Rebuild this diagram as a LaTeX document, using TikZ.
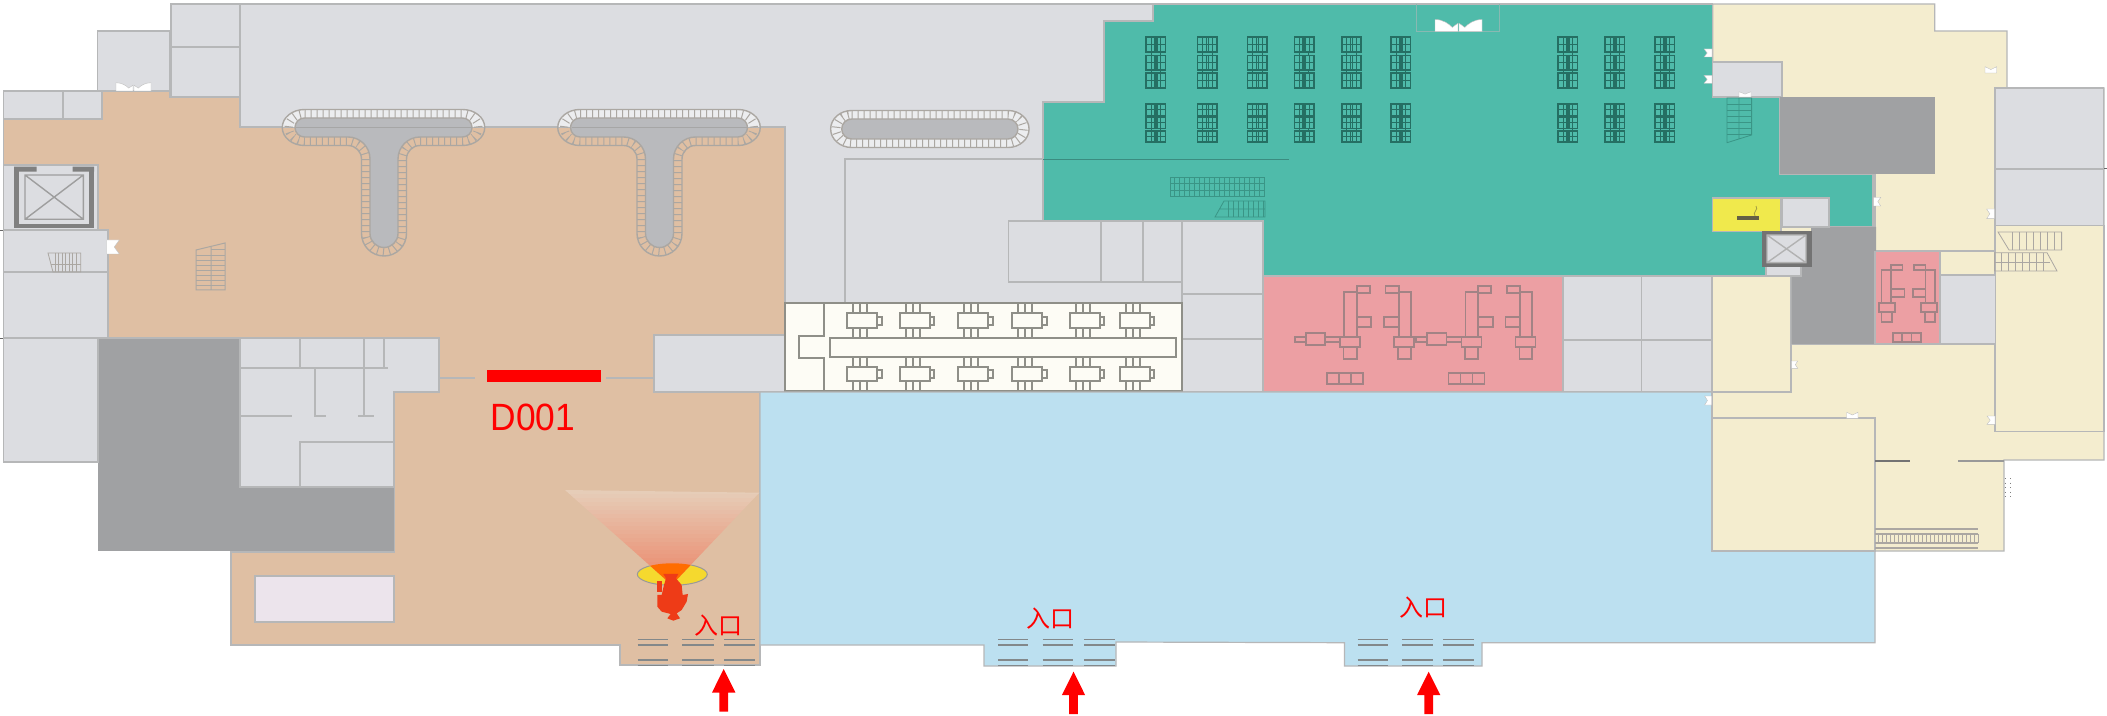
\documentclass[tikz,border=0pt]{standalone}
\usepackage{fontspec}
\setmainfont{Liberation Sans}
\newfontfamily\cjk{Noto Sans CJK SC}
\newfontfamily\codefont[FakeStretch=.93]{Liberation Sans}
\definecolor{cGray}{HTML}{DCDDE1}
\definecolor{cDark}{HTML}{A0A1A3}
\definecolor{cTan}{HTML}{DFBFA3}
\definecolor{cTeal}{HTML}{4FBBAA}
\definecolor{cCream}{HTML}{F4EDCF}
\definecolor{cBlue}{HTML}{BCE0F0}
\definecolor{cPink}{HTML}{EC9FA3}
\definecolor{cWall}{HTML}{B6B7B8}
\definecolor{cIvory}{HTML}{FDFCF5}
\definecolor{cStair}{HTML}{ABA7A2}
\definecolor{cDesk}{HTML}{256F63}
\definecolor{cUnit}{HTML}{8F8F88}
\definecolor{cPUnit}{HTML}{A28385}
\definecolor{cFig}{HTML}{EE3B17}
\definecolor{cYellowRoom}{HTML}{F0E94C}
\definecolor{cGold}{HTML}{F5D92E}
\definecolor{cConeA}{HTML}{E6CDB8}
\definecolor{cConeB}{HTML}{EC8567}
\definecolor{cLobby}{HTML}{ECE4EC}
\definecolor{cRingTop}{HTML}{ECEDEF}
\definecolor{cCore}{HTML}{B9BABD}
\definecolor{cTread}{HTML}{83888A}
\tikzset{
  wall/.style={draw=cWall,line width=.6pt},
  zone/.style={wall,fill=#1},
  pline/.style={draw=cWall,line width=.6pt},
  stairline/.style={draw=cStair,line width=.4pt},
  ringline/.style={draw=cStair,line width=.7pt},
  ticks/.style={draw=cStair,line width=4.2pt,dash pattern=on .5pt off 2.5pt},
  deskline/.style={draw=cDesk,line width=.5pt},
  unitline/.style={draw=cUnit,line width=1pt},
  punit/.style={draw=cPUnit,line width=.9pt},
  door/.style={fill=white,draw=black!25,line width=.2pt},
  redarrow/.style={fill=red,draw=none},
  entry/.style={text=red,font=\cjk\fontsize{12}{12}\selectfont,inner sep=0pt},
}
% T-shaped ring path, offset #1 from the inner shape
\newcommand*{\fpT}[1]{
  (304.5,{118-#1}) -- (462.5,{118-#1})
  arc[start angle=-90,end angle=90,x radius={9.5pt+1.5*#1pt},y radius={9.5pt+#1pt}]
  -- (420,{137+#1})
  arc[start angle=-90,end angle=-180,radius={22pt-#1pt}]
  -- ({398+#1},233.5)
  arc[start angle=0,end angle=180,radius={14pt+#1pt}]
  -- ({370-#1},159)
  arc[start angle=0,end angle=-90,radius={22pt-#1pt}]
  -- (304.5,{137+#1})
  arc[start angle=90,end angle=270,x radius={9.5pt+1.5*#1pt},y radius={9.5pt+#1pt}]
  -- cycle}
\newcommand*{\fpCap}[1]{
  (851.7,{119-#1}) -- (1008,{119-#1})
  arc[start angle=-90,end angle=90,x radius={10pt+1.3*#1pt},y radius={10pt+#1pt}]
  -- (851.7,{139+#1})
  arc[start angle=90,end angle=270,x radius={10pt+1.3*#1pt},y radius={10pt+#1pt}]
  -- cycle}
\newcommand*{\fpDesk}[3]{% x y h
  \draw[deskline,line width=.85pt] (#1,#2) rectangle ++(19.5,#3);
  \draw[deskline,line width=.6pt] (#1,{#2+#3/2}) -- ++(19.5,0);
  \draw[deskline,line width=.8pt] ({#1+8.8},#2) -- ++(0,#3) ({#1+10.8},#2) -- ++(0,#3);
  \draw[deskline,line width=.3pt] ({#1+5},#2) -- ++(0,#3) ({#1+14.5},#2) -- ++(0,#3);
}
\newcommand*{\fpDoorR}[4]{\fill[door] (#1,#2) -- (#3,#2) -- ({#1+(#3-#1)*.6},{(#2+#4)/2}) -- (#3,#4) -- (#1,#4) -- cycle;}
\newcommand*{\fpDoorL}[4]{\fill[door] (#1,#2) -- (#3,#2) -- (#3,#4) -- (#1,#4) -- ({#1+(#3-#1)*.4},{(#2+#4)/2}) -- cycle;}
\newcommand*{\fpDoorT}[4]{\fill[door] (#1,#2) -- ({(#1+#3)/2},{#2+(#4-#2)*.45}) -- (#3,#2) -- (#3,#4) -- (#1,#4) -- cycle;}
% curved leaf, sweeping from the outer top corner
\newcommand*{\fpLeafA}[4]{\fill[door] (#1,#2) .. controls ({#1+(#3-#1)*.35},#2) and ({#1+(#3-#1)*.6},{#2+(#4-#2)*.35}) .. ({#1+(#3-#1)*.75},{#2+(#4-#2)*.65}) -- (#3,{#2+(#4-#2)*.3}) -- (#3,#4) -- (#1,#4) -- cycle;}
\newcommand*{\fpLeafB}[4]{\fill[door] (#3,#2) .. controls ({#3-(#3-#1)*.35},#2) and ({#3-(#3-#1)*.6},{#2+(#4-#2)*.35}) .. ({#3-(#3-#1)*.75},{#2+(#4-#2)*.65}) -- (#1,{#2+(#4-#2)*.3}) -- (#1,#4) -- (#3,#4) -- cycle;}
\newcommand*{\fpTreads}[2]{% x1 x2
  \foreach \yy in {639.5,645,660,665.5} {\draw[draw=cTread,line width=.8pt] (#1,\yy) -- (#2,\yy);}
}
\newcommand*{\fpArrow}[2]{% x tip, y tip
  \fill[redarrow] (#1,#2) -- ({#1+11.7},{#2+23.5}) -- ({#1+4.4},{#2+23.5}) -- ({#1+4.4},{#2+42.5}) -- ({#1-4.4},{#2+42.5}) -- ({#1-4.4},{#2+23.5}) -- ({#1-11.7},{#2+23.5}) -- cycle;
}
\newcommand*{\fpMachineL}[1]{% left column group at x shift
  \begin{scope}[shift={(#1,0)}]
  \draw[punit] (1344,292.3) rectangle (1356.6,336.7);
  \draw[punit] (1356.6,286) rectangle (1369.7,292.7);
  \draw[punit] (1356.6,316.7) rectangle (1371.3,326.7);
  \draw[punit] (1340,336.7) rectangle (1360,346.7);
  \draw[punit] (1343.4,346.7) rectangle (1356.6,359.3);
  \draw[punit] (1398.6,292.3) rectangle (1410.7,336.7);
  \draw[punit] (1385.5,286) rectangle (1398.6,292.7);
  \draw[punit] (1384,316.7) rectangle (1398.6,326.7);
  \draw[punit] (1394,336.7) rectangle (1414,346.7);
  \draw[punit] (1398,346.7) rectangle (1410.7,359.3);
  \draw[punit] (1294.8,336.7) rectangle (1305.7,342.3);
  \draw[punit] (1305.7,333.3) rectangle (1325,345);
  \draw[punit] (1325,337.3) rectangle (1340,342);
  \draw[punit] (1327,373.3) rectangle (1363,384);
  \draw[punit] (1339,373.3) -- (1339,384) (1351,373.3) -- (1351,384);
  \end{scope}
}
\begin{document}
\begin{tikzpicture}[x=1pt,y=1pt,xscale=.5,yscale=-.5]
\useasboundingbox (0,0) rectangle (2107,716);
\fill[white] (0,0) rectangle (2107,716);
% ---- base gray
\draw[zone=cGray] (240,4) rectangle (1263,392);
\draw[zone=cGray] (171,4) rectangle (240,47);
\draw[zone=cGray] (171,47) rectangle (240,97);
\draw[zone=cGray] (97.5,31) rectangle (170,91);
\draw[zone=cGray] (3.5,91) rectangle (102,119);
\draw[pline] (63,91) -- (63,119);
% ---- cream
\draw[zone=cCream] (1712.7,4) -- (1934.7,4) -- (1934.7,31) -- (2007,31) -- (2007,88) -- (2104,88) -- (2104,460) -- (2004,460) -- (2004,551) -- (1712,551) -- cycle;
% ---- gray rooms on the right
\draw[zone=cGray] (1995,88) rectangle (2103.5,169);
\draw[zone=cGray] (1995,169) rectangle (2103.5,225.7);
\draw[zone=cGray] (1712.7,62) rectangle (1782,97);
% ---- teal
\draw[zone=cTeal] (1153,4) -- (1712.7,4) -- (1712.7,97) -- (1780,97) -- (1780,174) -- (1873,174) -- (1873,227) -- (1766,227) -- (1766,276) -- (1263,276) -- (1263,221) -- (1043,221) -- (1043,102) -- (1104,102) -- (1104,21) -- (1153,21) -- cycle;
\draw[draw=cWall!55!cTeal,line width=.5pt] (1416,4) -- (1416,32) -- (1499,32) -- (1499,4);
\draw[pline] (845,303) -- (845,159) -- (1043,159);
\draw[draw=black!25!cTeal,line width=.5pt] (1043,160) -- (1289,160);
% ---- dark cores
\fill[cDark] (1780,97) rectangle (1935,174);
% ---- tan
\draw[zone=cTan] (3.5,119) -- (102,119) -- (102,91) -- (170,91) -- (170,97) -- (240,97) -- (240,127) -- (785,127) -- (785,335) -- (654,335) -- (654,392) -- (760,392) -- (760,665) -- (620,665) -- (620,645) -- (231,645) -- (231,552) -- (394,552) -- (394,392) -- (439,392) -- (439,338) -- (108,338) -- (108,230) -- (98,230) -- (98,165) -- (3.5,165) -- cycle;
\fill[cDark] (98,339) rectangle (240,551);
\fill[cDark] (240,487) rectangle (394,551);
% ---- gray rooms on the left
\draw[zone=cGray] (3.5,165) rectangle (98,230);
\draw[zone=cGray] (3.5,230) rectangle (108,272);
\draw[zone=cGray] (3.5,272) rectangle (108,338);
\draw[zone=cGray] (3.5,338) rectangle (98,462);
\draw[zone=cGray] (240,338) -- (439,338) -- (439,392) -- (394,392) -- (394,487) -- (240,487) -- cycle;
\draw[pline] (300,338) -- (300,368) (240,368) -- (388,368) (364,338) -- (364,416) (384,338) -- (384,368) (315,368) -- (315,416);
\draw[pline] (240,416) -- (292,416) (314,416) -- (325.5,416) (358,416) -- (374,416);
\draw[pline] (300,487) -- (300,442) -- (394,442);
\draw[zone=cGray] (654,335) rectangle (785,392);
\draw[pline] (440,378) -- (474.5,378) (606,378) -- (654,378);
% ---- elevator left
\fill[black!50] (14,166.7) rectangle (36.7,171.7) (72.7,166.7) rectangle (94,171.7);
\draw[black!50,line width=2.3pt] (16.3,168) -- (16.3,226.1) -- (91.7,226.1) -- (91.7,168);
\draw[draw=black!38,line width=.7pt] (25,175) rectangle (83.3,219.3) (25,175) -- (83.3,219.3) (25,219.3) -- (83.3,175);
% ---- left stairs
\draw[stairline,line width=.5pt] (196,250) -- (225,243) -- (225,290) -- (196,290) -- cycle (211,246.5) -- (211,290);
\foreach \yy in {255,260,265,270,275,280,285}{\draw[stairline] (196,\yy) -- (225,\yy);}
\draw[stairline] (225,249) -- (211,249);
\draw[stairline] (48,253) -- (80.7,253) -- (80.7,272) -- (53,272) -- cycle;
\foreach \xx in {55,58.5,62,65.5,69,72.5,76}{\draw[stairline,line width=.3pt] (\xx,253) -- (\xx,272);}
\draw[stairline,line width=.3pt] (51,264) -- (80.7,264);
% ---- T escalators
\foreach \dx in {0,275.5}{
 \begin{scope}[shift={(\dx,0)}]
  \begin{scope}
   \clip (270,100) rectangle (500,127);
   \fill[cRingTop] \fpT{8.5};
  \end{scope}
  \fill[cCore] \fpT{0};
  \draw[ticks] \fpT{4.25};
  \draw[ringline] \fpT{0};
  \draw[ringline] \fpT{8.5};
  \draw[draw=black!35,line width=.6pt] (296,127.6) -- (471.7,127.6);
 \end{scope}
}
\fill[cRingTop] \fpCap{8.5};
\fill[cCore] \fpCap{0};
\draw[ticks] \fpCap{4.25};
\draw[ringline] \fpCap{0};
\draw[ringline] \fpCap{8.5};
% ---- gray rooms centre
\draw[zone=cGray] (1008.7,221) rectangle (1182,282);
\draw[pline] (1101,221) -- (1101,282) (1143,221) -- (1143,282);
\draw[zone=cGray] (1182,221) rectangle (1263,294);
\draw[zone=cGray] (1182,294) rectangle (1263,339);
\draw[zone=cGray] (1182,339) rectangle (1263,392);
% ---- ivory room
\draw[draw=cUnit,fill=cIvory,line width=1pt] (785,303.3) rectangle (1181.7,391);
\draw[unitline] (824,303.3) -- (824,335.7) -- (799,335.7) -- (799,357.7) -- (824,357.7) -- (824,391);
\draw[unitline] (830,338.3) rectangle (1176,356.7);
\foreach \xx in {847.3,900,958.3,1012.3,1070,1120}{
  \draw[unitline] (\xx,313.3) rectangle ++(30,15) (\xx+30,316.7) rectangle ++(4.4,8.3);
  \draw[unitline] (\xx,366.7) rectangle ++(30,14) (\xx+30,369.5) rectangle ++(4.4,8.3);
  \foreach \cc in {5.5,12.7,20}{
    \draw[unitline] (\xx+\cc,304) -- (\xx+\cc,313.3) (\xx+\cc,328.3) -- (\xx+\cc,337.5);
    \draw[unitline] (\xx+\cc,357.5) -- (\xx+\cc,366.7) (\xx+\cc,380.7) -- (\xx+\cc,390);
  }
}
% ---- desks
\foreach \xx in {1146,1197.5,1247.5,1294.4,1341.7,1391,1558,1605,1655}{
  \fpDesk{\xx}{37}{15}
  \fpDesk{\xx}{55.5}{14.5}
  \fpDesk{\xx}{73.3}{14.9}
  \fpDesk{\xx}{104}{11.5}
  \fpDesk{\xx}{117}{11.5}
  \fpDesk{\xx}{131}{10.7}
  \draw[deskline] (\xx+5,52) -- (\xx+5,55.5) (\xx+14.5,52) -- (\xx+14.5,55.5) (\xx+5,70) -- (\xx+5,73.3) (\xx+14.5,70) -- (\xx+14.5,73.3);
  \draw[deskline] (\xx+5,115.5) -- (\xx+5,117) (\xx+14.5,115.5) -- (\xx+14.5,117) (\xx+5,128.5) -- (\xx+5,131) (\xx+14.5,128.5) -- (\xx+14.5,131);
}
% ---- teal stairs
\draw[draw=cDesk!50!cTeal,line width=.5pt] (1170,178) rectangle (1264,197);
\draw[draw=cDesk!50!cTeal,line width=.5pt] (1170,184) -- (1264,184) (1170,191) -- (1264,191);
\foreach \xx in {1174,1179,...,1262}{\draw[draw=cDesk!50!cTeal,line width=.3pt] (\xx,178) -- (\xx,197);}
\draw[draw=cDesk!50!cTeal,line width=.4pt] (1224,201) -- (1265,201) -- (1265,217) -- (1215,217) -- cycle (1220,209) -- (1265,209);
\foreach \xx in {1228,1233,...,1263}{\draw[draw=cDesk!50!cTeal,line width=.3pt] (\xx,201) -- (\xx,217);}
\draw[draw=cDesk!50!cTeal,line width=.4pt] (1727,98) -- (1751.6,98) -- (1751.6,135) -- (1727,142.7) -- cycle (1739,98) -- (1739,139);
\foreach \yy in {104,110,116,122,128,134}{\draw[draw=cDesk!50!cTeal,line width=.3pt] (1727,\yy) -- (1751.6,\yy);}
% ---- pink rooms
\draw[zone=cPink] (1263,276) rectangle (1563,392);
\fpMachineL{0}
\fpMachineL{121.5}
\draw[zone=cGray] (1563,276) rectangle (1712.7,392);
\draw[pline] (1641.5,276) -- (1641.5,392) (1563,340) -- (1712.7,340);
% ---- blue
\draw[zone=cBlue] (760,392) -- (1712,392) -- (1712,551) -- (1875,551) -- (1875,642.7) -- (1482,642.7) -- (1482,666) -- (1344.5,666) -- (1344.5,642.7) -- (1116,642) -- (1116,666) -- (984,666) -- (984,645) -- (760,645) -- cycle;
% ---- right cream
\draw[zone=cCream] (1712,276) rectangle (1791,392);
\draw[zone=cCream] (1712,418) rectangle (1875,551);
\draw[zone=cCream] (1995,225.7) rectangle (2104,431.7);
\draw[pline] (1712,392) -- (1712,418);
\draw[pline] (1875,174) -- (1875,251) -- (1995,251) (1792,344) -- (1995,344);
\fill[cDark] (1811,227) -- (1876,227) -- (1876,344) -- (1791.5,344) -- (1791.5,276) -- (1801,276) -- (1801,267) -- (1811,267) -- cycle;
\draw[zone=cGray] (1782,198) rectangle (1829,227);
\draw[zone=cGray] (1766,266.7) rectangle (1801,276);
\draw[zone=cPink] (1875,251.7) rectangle (1940,344);
\draw[zone=cGray] (1940,275) rectangle (1995.5,344);
\begin{scope}
  \draw[punit] (1881.5,270) rectangle (1891,303.3);
  \draw[punit] (1891,265) rectangle (1902.5,270);
  \draw[punit] (1891,288.7) rectangle (1904.5,296.7);
  \draw[punit] (1878.6,303.3) rectangle (1895,311.7);
  \draw[punit] (1881.5,311.7) rectangle (1892,321.7);
  \draw[punit] (1925.5,270) rectangle (1934.7,303.3);
  \draw[punit] (1914,265) rectangle (1925.5,270);
  \draw[punit] (1913,288.7) rectangle (1925.5,296.7);
  \draw[punit] (1921,303.3) rectangle (1937,311.7);
  \draw[punit] (1924.7,311.7) rectangle (1934.7,321.7);
  \draw[punit] (1893,332.7) rectangle (1921,341.7) (1902,332.7) -- (1902,341.7) (1911.5,332.7) -- (1911.5,341.7);
\end{scope}
% ---- yellow room
\draw[zone=cYellowRoom] (1712.7,198) rectangle (1781,231.7);
\fill[black!70!yellow] (1737,216) rectangle (1759,220);
\draw[draw=yellow!60!black,line width=.4pt] (1755,216) .. controls (1752,212) and (1759,210) .. (1756,206);
% ---- elevator right
\fill[black!55] (1762,231) rectangle (1811.5,266.7);
\draw[draw=black!30,fill=cGray,line width=.7pt] (1767,235) rectangle (1806,262.7) (1767,235) -- (1806,262.7) (1767,262.7) -- (1806,235);
% ---- right stairs
\draw[stairline] (1998,232) -- (2061.6,232) -- (2061.6,250) -- (2009,250) -- cycle;
\foreach \xx in {2012,2019,...,2058}{\draw[stairline] (\xx,232) -- (\xx,250);}
\draw[stairline] (1994.6,252.7) -- (2047,252.7) -- (2057,271) -- (1994.6,271) -- cycle;
\foreach \xx in {2001,2008,...,2044}{\draw[stairline] (\xx,252.7) -- (\xx,271);}
\draw[stairline] (1994.6,262) -- (2050,262);
\draw[stairline,line width=.6pt] (1875,529) -- (1978,529) (1875,548) -- (1978,548) (1875,534) -- (1978,534) (1875,543) -- (1978,543);
\foreach \xx in {1878,1882,...,1978}{\draw[stairline,line width=.3pt] (\xx,534) -- (\xx,543);}
\draw[draw=black!55,line width=.7pt] (1875,461) -- (1910,461);
\draw[pline,draw=black!40] (1958,461) -- (2004,461);
% ---- doors
\fpDoorR{106.7}{240}{119.3}{254}
\fpLeafA{116}{82.7}{133}{91}
\fpLeafB{134}{82.7}{151}{91}
\fpLeafA{1435}{19.5}{1458}{31.7}
\fpLeafB{1459}{19.5}{1482}{31.7}
\fpDoorL{1704}{49}{1712}{57}
\fpDoorL{1704}{75.3}{1712}{83.3}
\fpDoorT{1739}{91.7}{1751}{97}
\fpDoorT{1985}{66.7}{1996.7}{73}
\fpDoorR{1873.5}{197.3}{1880.7}{206}
\fpDoorL{1986.6}{209}{1994.6}{218.7}
\fpDoorR{1791.7}{361}{1797.7}{368.3}
\fpDoorL{1704.6}{396}{1711.7}{405}
\fpDoorT{1846.7}{412.3}{1858}{418.3}
\fpDoorL{1987}{416}{1995}{424.3}
\draw[draw=black!50,line width=.3pt,dotted] (2005,478) -- (2005,500) (2010,478) -- (2010,500);
% ---- lobby box
\draw[draw=cWall,fill=cLobby,line width=.7pt] (255,576) rectangle (394,622);
% ---- entrance treads
\fpTreads{637.7}{668.3}\fpTreads{682.3}{714}\fpTreads{724}{755}
\fpTreads{998.3}{1028}\fpTreads{1042.7}{1073}\fpTreads{1084.3}{1115}
\fpTreads{1357.6}{1387.7}\fpTreads{1402}{1432.5}\fpTreads{1443}{1474}
% ---- arrows and labels
\fpArrow{723.7}{669}
\fpArrow{1073.5}{671.7}
\fpArrow{1428.7}{671.7}
\node[entry] (lblA) at (718,626) {入口};
\node[entry] (lblB) at (1050,619) {入口};
\node[entry] (lblC) at (1423,607.5) {入口};
% ---- doorway bar and code
\fill[red] (487,369.5) rectangle (601,381.7);
\node[text=red,inner sep=0pt,font=\codefont\fontsize{19}{19}\selectfont] (code) at (533,417.5) {D001};
% ---- viewer and view cone
\draw[fill=cGold,draw=black!40,line width=.5pt] (672.3,574.3) ellipse [x radius=35pt,y radius=11pt];
\begin{scope}
 \clip (565,490) -- (759.3,492.7) -- (671.7,585) -- cycle;
 \foreach \i in {0,...,23}{
   \pgfmathsetmacro{\mixv}{100*\i/23}
   \fill[cConeB!\mixv!cConeA] (560,{490+\i*4}) rectangle (765,{490+\i*4+4.4});
 }
\end{scope}
\begin{scope}
 \clip (672.3,574.3) ellipse [x radius=35pt,y radius=11pt];
 \fill[orange!85!red] (565,490) -- (759.3,492.7) -- (671.7,585) -- cycle;
\end{scope}
\begin{scope}[shift={(540,470)},scale=1/3]
 \fill[cFig] (370,312) -- (415,312) -- (408,325) -- (425,345) -- (428,375) -- (444,372) -- (440,395) -- (425,420) -- (410,430) -- (420,445) -- (400,452) -- (382,445) -- (392,432) -- (365,425) -- (352,410) -- (352,375) -- (365,375) -- (372,345) -- (378,325) -- cycle;
 \fill[cFig] (350,333) rectangle (367,365);
\end{scope}
% ---- edge ticks
\draw[black!60,line width=.4pt] (0,230) -- (3,230) (0,338) -- (3,338) (2104,168) -- (2107,168);
\end{tikzpicture}
\end{document}
